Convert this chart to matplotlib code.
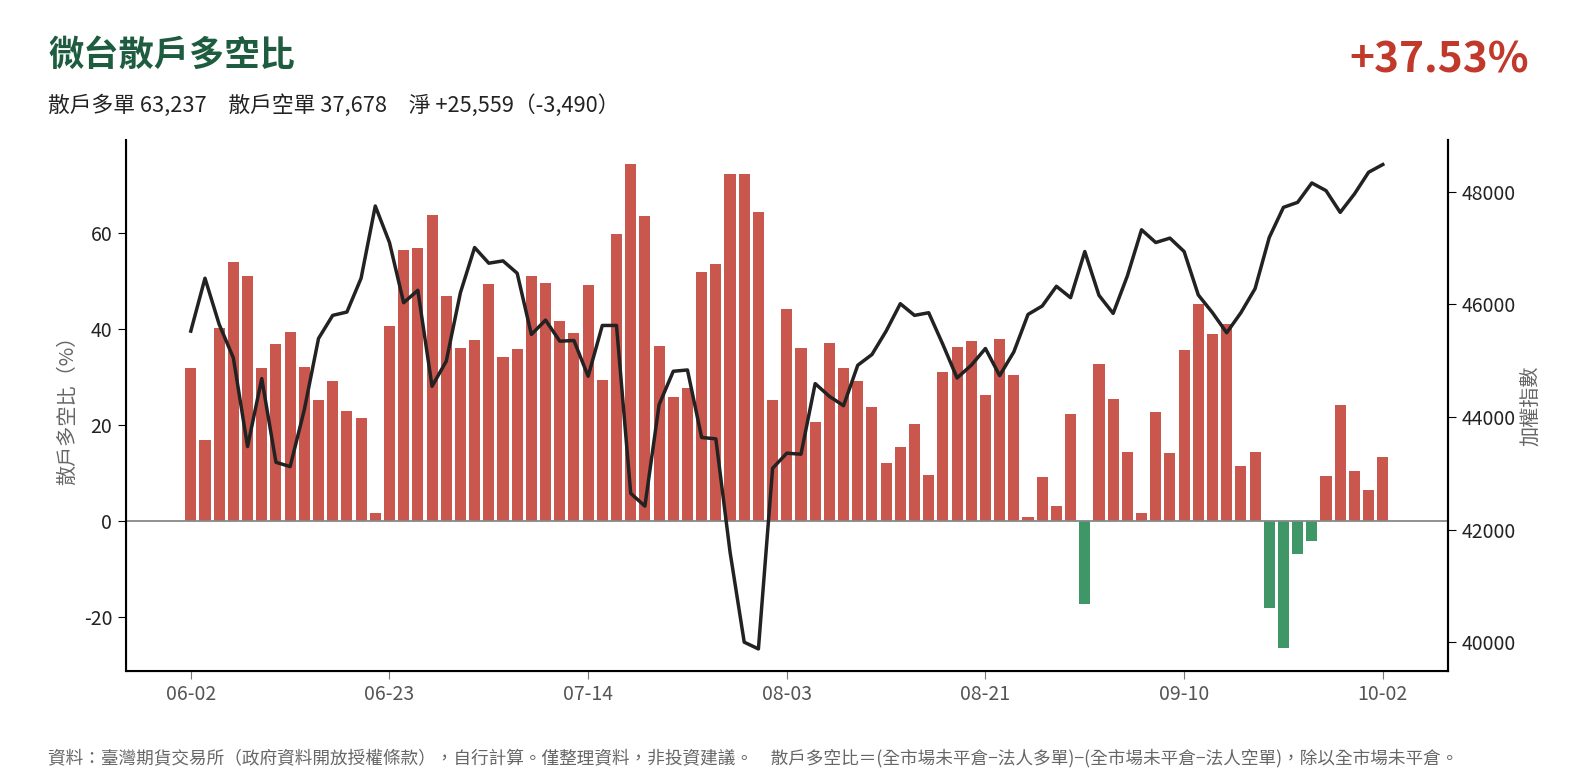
import numpy as np
import matplotlib
matplotlib.use("Agg")
import matplotlib.pyplot as plt

plt.rcParams['font.family'] = ['Noto Sans CJK TC', 'DejaVu Sans']
plt.rcParams['axes.unicode_minus'] = False

# 散戶多空比 (%) per trading day
ratio = [31.8, 16.9, 40.2, 54.0, 51.0, 31.8, 36.8, 39.3, 32.0, 25.1,
         29.1, 23.0, 21.5, 1.7, 40.6, 56.5, 56.9, 63.8, 46.9, 36.0,
         37.7, 49.4, 34.1, 35.8, 51.0, 49.6, 41.6, 39.1, 49.2, 29.3,
         59.8, 74.3, 63.6, 36.4, 25.9, 27.6, 51.9, 53.6, 72.4, 72.4,
         64.4, 25.3, 44.1, 36.0, 20.7, 37.0, 31.8, 29.1, 23.8, 12.1,
         15.5, 20.1, 9.6, 31.0, 36.2, 37.4, 26.2, 37.9, 30.5, 0.8,
         9.2, 3.1, 22.2, -17.4, 32.8, 25.5, 14.4, 1.7, 22.6, 14.2,
         35.6, 45.2, 38.9, 41.0, 11.5, 14.4, -18.1, -26.6, -6.8, -4.1,
         9.4, 24.1, 10.5, 6.5, 13.4]

# 加權指數
taiex = [45525, 46463, 45644, 45049, 43476, 44682, 43197, 43120, 44130, 45394,
         45804, 45863, 46463, 47745, 47098, 46029, 46249, 44545, 44990, 46207,
         47008, 46730, 46771, 46552, 45465, 45720, 45346, 45358, 44723, 45625,
         45625, 42645, 42419, 44218, 44812, 44835, 43637, 43613, 41606, 40004,
         39884, 43090, 43358, 43340, 44593, 44367, 44201, 44919, 45109, 45525,
         46011, 45804, 45851, 45287, 44693, 44919, 45216, 44735, 45156, 45821,
         45970, 46320, 46118, 46937, 46160, 45839, 46504, 47323, 47097, 47175,
         46937, 46166, 45851, 45495, 45851, 46278, 47187, 47721, 47810, 48154,
         48018, 47632, 47958, 48344, 48481]

tick_idx = [0, 14, 28, 42, 56, 70, 84]
tick_labels = ["06-02", "06-23", "07-14", "08-03", "08-21", "09-10", "10-02"]

title = "微台散戶多空比"
subtitle = "散戶多單 63,237　散戶空單 37,678　淨 +25,559（-3,490）"
headline = "+37.53%"
footer = ("資料：臺灣期貨交易所（政府資料開放授權條款），自行計算。僅整理資料，非投資建議。　"
          "散戶多空比＝(全市場未平倉−法人多單)−(全市場未平倉−法人空單)，除以全市場未平倉。")

red = "#c9574d"
green = "#3f9666"

fig = plt.figure(figsize=(15.75, 7.8), dpi=100)
ax = fig.add_axes([0.0797, 0.1403, 0.8397, 0.6796])

x = np.arange(len(ratio))
colors = [red if v >= 0 else green for v in ratio]
ax.bar(x, ratio, width=0.78, color=colors, zorder=2)
ax.axhline(0, color="#888888", linewidth=1.3, zorder=3)
ax.set_ylim(-31.2, 79.3)
ax.set_yticks([-20, 0, 20, 40, 60])
ax.set_xlim(-4.6, 88.6)
ax.set_xticks(tick_idx)
ax.set_xticklabels(tick_labels)
ax.set_ylabel("散戶多空比（%）", fontsize=14.5, color="#666666")
ax.tick_params(axis='x', colors="#777777", labelsize=14, length=6)
ax.tick_params(axis='x', labelcolor="#555555")
ax.tick_params(axis='y', labelsize=14, length=6, labelcolor="#222222")
ax.spines['top'].set_visible(False)
for s in ['left', 'bottom', 'right']:
    ax.spines[s].set_linewidth(1.5)

ax2 = ax.twinx()
ax2.plot(x, taiex, color="#222222", linewidth=2.5, zorder=4)
ax2.set_ylim(39500, 48908)
ax2.set_yticks([40000, 42000, 44000, 46000, 48000])
ax2.set_ylabel("加權指數", fontsize=14.5, color="#666666")
ax2.tick_params(axis='y', labelsize=14, length=6, labelcolor="#222222")
ax2.spines['top'].set_visible(False)
ax2.spines['right'].set_linewidth(1.5)

fig.text(0.0305, 0.929, title, fontsize=25.4, fontweight='bold', color="#1e5c40",
         va='center', ha='left')
fig.text(0.0305, 0.864, subtitle, fontsize=15.7, color="#222222", va='center', ha='left')
fig.text(0.9705, 0.923, headline, fontsize=30.5, fontweight='bold', color="#c0392b",
         va='center', ha='right')
fig.text(0.0305, 0.028, footer, fontsize=12.7, color="#666666", va='center', ha='left')

fig.savefig("out.png", dpi=100)
